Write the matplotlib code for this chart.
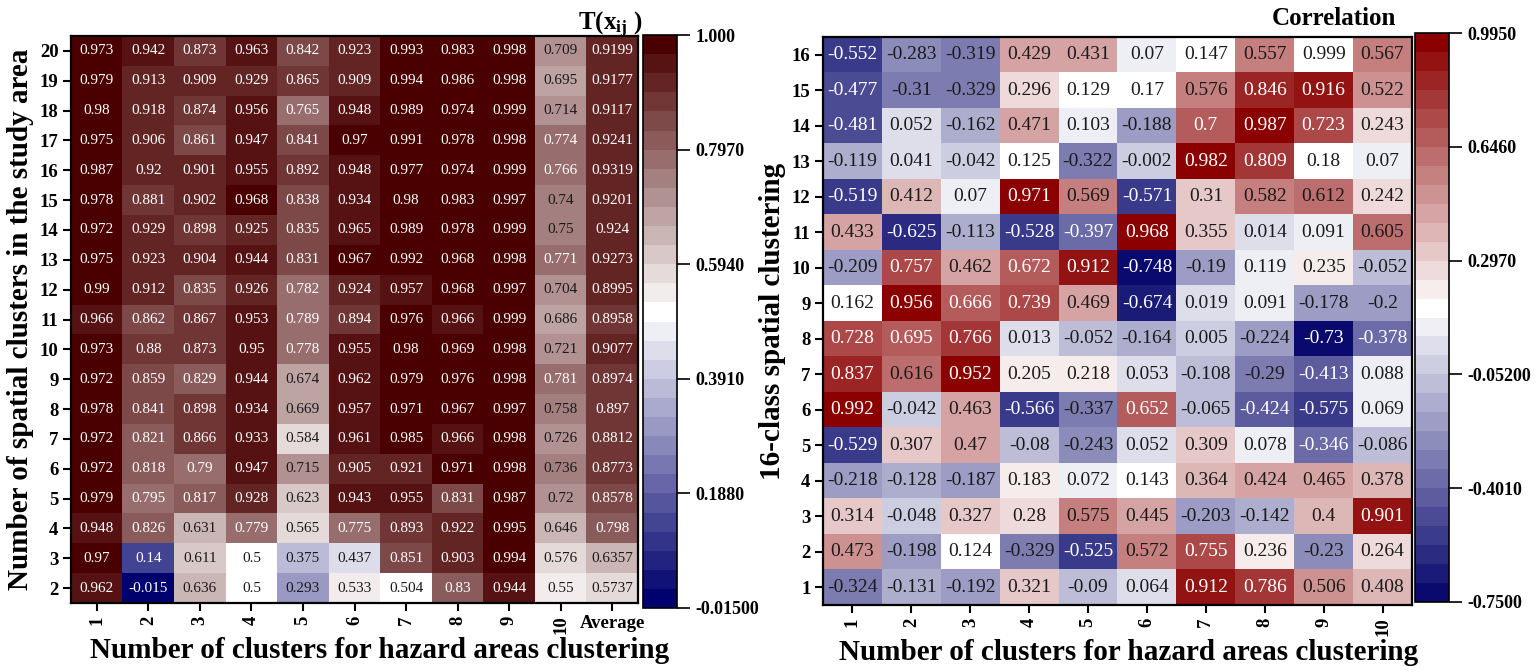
import numpy as np
import matplotlib
matplotlib.use('Agg')
import matplotlib.pyplot as plt
from matplotlib.colors import LinearSegmentedColormap, Normalize

plt.rcParams['font.family'] = ['Liberation Serif', 'DejaVu Serif']
plt.rcParams['mathtext.fontset'] = 'custom'
plt.rcParams['mathtext.rm'] = 'Liberation Serif'
plt.rcParams['mathtext.bf'] = 'Liberation Serif:bold'
plt.rcParams['mathtext.it'] = 'Liberation Serif:italic'

# left panel: T(x_ij), rows = number of spatial clusters (top to bottom)
left_rows = [20, 19, 18, 17, 16, 15, 14, 13, 12, 11, 10, 9, 8, 7, 6, 5, 4, 3, 2]
left_cols = ['1', '2', '3', '4', '5', '6', '7', '8', '9', '10', 'Average']
left_vals = [
    [0.973, 0.942, 0.873, 0.963, 0.842, 0.923, 0.993, 0.983, 0.998, 0.709, 0.9199],
    [0.979, 0.913, 0.909, 0.929, 0.865, 0.909, 0.994, 0.986, 0.998, 0.695, 0.9177],
    [0.98, 0.918, 0.874, 0.956, 0.765, 0.948, 0.989, 0.974, 0.999, 0.714, 0.9117],
    [0.975, 0.906, 0.861, 0.947, 0.841, 0.97, 0.991, 0.978, 0.998, 0.774, 0.9241],
    [0.987, 0.92, 0.901, 0.955, 0.892, 0.948, 0.977, 0.974, 0.999, 0.766, 0.9319],
    [0.978, 0.881, 0.902, 0.968, 0.838, 0.934, 0.98, 0.983, 0.997, 0.74, 0.9201],
    [0.972, 0.929, 0.898, 0.925, 0.835, 0.965, 0.989, 0.978, 0.999, 0.75, 0.924],
    [0.975, 0.923, 0.904, 0.944, 0.831, 0.967, 0.992, 0.968, 0.998, 0.771, 0.9273],
    [0.99, 0.912, 0.835, 0.926, 0.782, 0.924, 0.957, 0.968, 0.997, 0.704, 0.8995],
    [0.966, 0.862, 0.867, 0.953, 0.789, 0.894, 0.976, 0.966, 0.999, 0.686, 0.8958],
    [0.973, 0.88, 0.873, 0.95, 0.778, 0.955, 0.98, 0.969, 0.998, 0.721, 0.9077],
    [0.972, 0.859, 0.829, 0.944, 0.674, 0.962, 0.979, 0.976, 0.998, 0.781, 0.8974],
    [0.978, 0.841, 0.898, 0.934, 0.669, 0.957, 0.971, 0.967, 0.997, 0.758, 0.897],
    [0.972, 0.821, 0.866, 0.933, 0.584, 0.961, 0.985, 0.966, 0.998, 0.726, 0.8812],
    [0.972, 0.818, 0.79, 0.947, 0.715, 0.905, 0.921, 0.971, 0.998, 0.736, 0.8773],
    [0.979, 0.795, 0.817, 0.928, 0.623, 0.943, 0.955, 0.831, 0.987, 0.72, 0.8578],
    [0.948, 0.826, 0.631, 0.779, 0.565, 0.775, 0.893, 0.922, 0.995, 0.646, 0.798],
    [0.97, 0.14, 0.611, 0.5, 0.375, 0.437, 0.851, 0.903, 0.994, 0.576, 0.6357],
    [0.962, -0.015, 0.636, 0.5, 0.293, 0.533, 0.504, 0.83, 0.944, 0.55, 0.5737],
]
left_range = (-0.015, 1.0)
left_cbar_labels = ['-0.01500', '0.1880', '0.3910', '0.5940', '0.7970', '1.000']

# right panel: correlation, rows = 16-class spatial clustering (top to bottom)
right_rows = [16, 15, 14, 13, 12, 11, 10, 9, 8, 7, 6, 5, 4, 3, 2, 1]
right_cols = ['1', '2', '3', '4', '5', '6', '7', '8', '9', '10']
right_vals = [
    [-0.552, -0.283, -0.319, 0.429, 0.431, 0.07, 0.147, 0.557, 0.999, 0.567],
    [-0.477, -0.31, -0.329, 0.296, 0.129, 0.17, 0.576, 0.846, 0.916, 0.522],
    [-0.481, 0.052, -0.162, 0.471, 0.103, -0.188, 0.7, 0.987, 0.723, 0.243],
    [-0.119, 0.041, -0.042, 0.125, -0.322, -0.002, 0.982, 0.809, 0.18, 0.07],
    [-0.519, 0.412, 0.07, 0.971, 0.569, -0.571, 0.31, 0.582, 0.612, 0.242],
    [0.433, -0.625, -0.113, -0.528, -0.397, 0.968, 0.355, 0.014, 0.091, 0.605],
    [-0.209, 0.757, 0.462, 0.672, 0.912, -0.748, -0.19, 0.119, 0.235, -0.052],
    [0.162, 0.956, 0.666, 0.739, 0.469, -0.674, 0.019, 0.091, -0.178, -0.2],
    [0.728, 0.695, 0.766, 0.013, -0.052, -0.164, 0.005, -0.224, -0.73, -0.378],
    [0.837, 0.616, 0.952, 0.205, 0.218, 0.053, -0.108, -0.29, -0.413, 0.088],
    [0.992, -0.042, 0.463, -0.566, -0.337, 0.652, -0.065, -0.424, -0.575, 0.069],
    [-0.529, 0.307, 0.47, -0.08, -0.243, 0.052, 0.309, 0.078, -0.346, -0.086],
    [-0.218, -0.128, -0.187, 0.183, 0.072, 0.143, 0.364, 0.424, 0.465, 0.378],
    [0.314, -0.048, 0.327, 0.28, 0.575, 0.445, -0.203, -0.142, 0.4, 0.901],
    [0.473, -0.198, 0.124, -0.329, -0.525, 0.572, 0.755, 0.236, -0.23, 0.264],
    [-0.324, -0.131, -0.192, 0.321, -0.09, 0.064, 0.912, 0.786, 0.506, 0.408],
]
right_range = (-0.75, 0.995)
right_cbar_labels = ['-0.7500', '-0.4010', '-0.05200', '0.2970', '0.6460', '0.9950']

xlabel = 'Number of clusters for hazard areas clustering'


def make_cmap(low, high):
    cm = LinearSegmentedColormap.from_list('bwr30', [(0, low), (15 / 29, 'white'), (1, high)], N=30)
    cm.set_over('white')
    return cm


def heatmap(ax, cax, vals, rows, cols, vlim, cmap, cbar_labels, fs):
    vals = np.array(vals)
    norm = Normalize(*vlim)
    im = ax.imshow(vals, cmap=cmap, norm=norm, aspect='auto', interpolation='nearest')
    for i in range(vals.shape[0]):
        for j in range(vals.shape[1]):
            v = vals[i, j]
            r, g, b, _ = cmap(norm(v))
            lum = 0.2126 * r + 0.7152 * g + 0.0722 * b
            ax.text(j, i, f'{v:g}', ha='center', va='center', fontsize=fs,
                    color='white' if lum < 0.49 else '#1a1a1a')
    ax.set_yticks(range(len(rows)))
    ax.set_yticklabels([str(r) for r in rows], fontsize=13.5, fontweight='bold')
    ax.set_xticks(range(len(cols)))
    ax.set_xticklabels(cols, fontsize=13.5, fontweight='bold')
    for lab in ax.get_xticklabels():
        if lab.get_text() != 'Average':
            lab.set_rotation(90)
    ax.tick_params(length=6, width=1.5, direction='out', pad=3)
    for s in ax.spines.values():
        s.set_linewidth(1.6)
    ax.set_xlabel(xlabel, fontsize=21, fontweight='bold', labelpad=2)

    cb = plt.colorbar(im, cax=cax, ticks=np.linspace(vlim[0], vlim[1], 6))
    cb.ax.set_yticklabels(cbar_labels, fontsize=13, fontweight='bold')
    cb.ax.tick_params(length=9, width=1.2, pad=4)
    cb.outline.set_linewidth(1.2)
    return im


fig = plt.figure(figsize=(15.36, 6.72), dpi=100)
W, H = 1536, 672


def box(x0, y0, x1, y1):
    return [x0 / W, 1 - y1 / H, (x1 - x0) / W, (y1 - y0) / H]


ax1 = fig.add_axes(box(71, 36, 638, 603))
cax1 = fig.add_axes(box(643, 35, 677, 608))
ax2 = fig.add_axes(box(823, 37, 1412, 605))
cax2 = fig.add_axes(box(1415, 33, 1449, 602))

cmap_left = make_cmap('#00006e', '#4a0000')
cmap_right = make_cmap('#0a0a6e', '#8b0000')

heatmap(ax1, cax1, left_vals, left_rows, left_cols, left_range, cmap_left, left_cbar_labels, 11)
heatmap(ax2, cax2, right_vals, right_rows, right_cols, right_range, cmap_right, right_cbar_labels, 14)

# x labels sit a bit right of the heatmap centre in the original
ax1.xaxis.label.set_x(0.544)
ax2.xaxis.label.set_x(0.519)

ax1.set_ylabel('Number of spatial clusters in the study area', fontsize=21, fontweight='bold', labelpad=4)
ax2.set_ylabel('16-class spatial clustering', fontsize=21, fontweight='bold', labelpad=4)

fig.text(642 / W, 1 - 30 / H, r'T(x$_{\mathbf{ij}}$ )', ha='right', va='baseline', fontsize=18, fontweight='bold')
fig.text(1396 / W, 1 - 25 / H, 'Correlation', ha='right', va='baseline', fontsize=18, fontweight='bold')

fig.savefig('out.png', dpi=100)
